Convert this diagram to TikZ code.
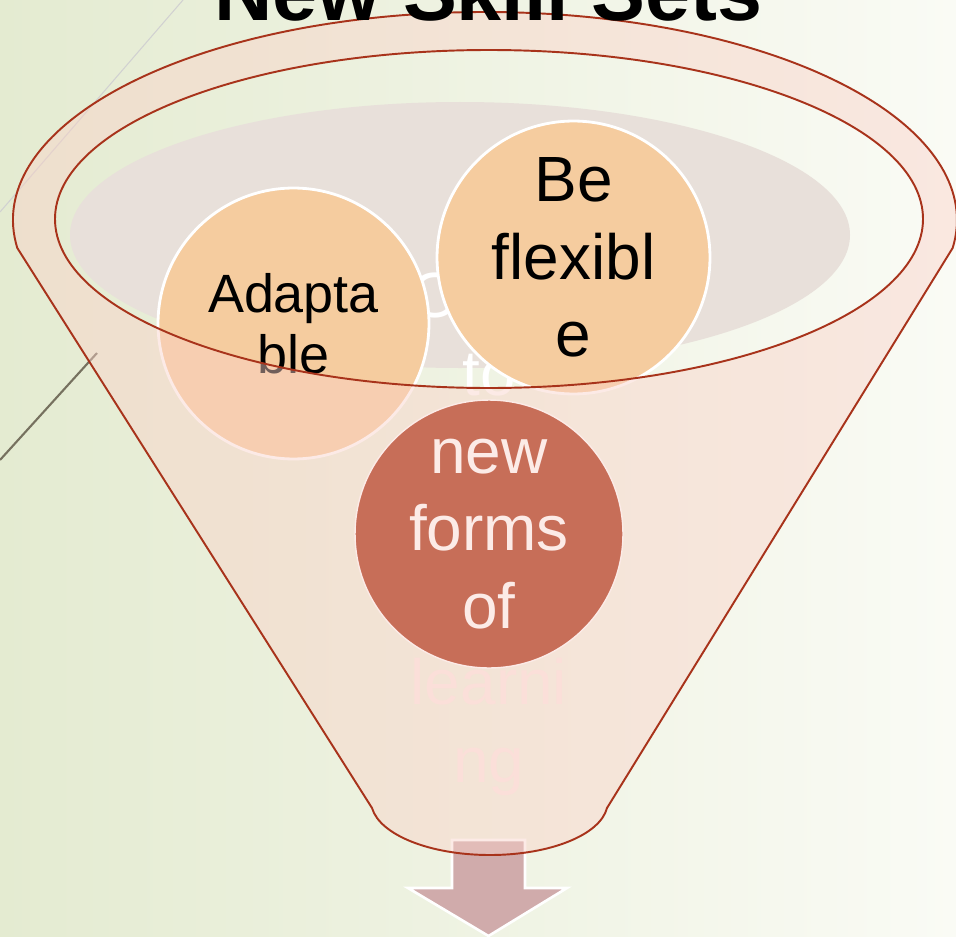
\documentclass[tikz,border=0pt]{standalone}
\usepackage{fontspec}
\setmainfont{Liberation Sans}
\usepackage{tikz}
\usetikzlibrary{positioning}
\definecolor{bgleft}{HTML}{E4EBD1}
\definecolor{bgright}{HTML}{FAFBF5}
\definecolor{bowlgray}{HTML}{E8E0DA}
\definecolor{peach}{HTML}{F5CC9F}
\definecolor{rust}{HTML}{C76E58}
\definecolor{funnelpink}{HTML}{FAD2C8}
\definecolor{funnelline}{HTML}{A8331B}
\definecolor{arrowrose}{HTML}{D0ABAB}
\definecolor{paletext}{HTML}{FCEBE7}
\definecolor{stemgray}{HTML}{76715F}
\begin{document}
\begin{tikzpicture}[x=0.02cm,y=-0.02cm,
    bubble/.style={circle,fill=peach,draw=white,line width=1.6pt,inner sep=0pt,align=center},
    bigtext/.style={font=\fontsize{36.4}{44}\selectfont,align=center,inner sep=0pt},
    rim/.style={draw=funnelline,line width=1.1pt}]
  \useasboundingbox (0,0) rectangle (956,936);
  \shade[left color=bgleft,right color=bgright] (0,0) rectangle (956,936);
  \draw[black!18,line width=0.6pt] (0,212)--(183,0);
  \draw[stemgray,line width=1.2pt] (0,460)--(97,353);
  \fill[bowlgray] (460,235) ellipse[x radius=390,y radius=133];
  \node[bigtext,text=white,anchor=south] (opento) at (489,396) {Open\\to};
  \node[bubble,minimum size=5.42cm,font=\fontsize{30.7}{34.7}\selectfont] (adapt) at (293.5,323.5) {Adapta\\ble};
  \node[bubble,minimum size=5.46cm,font=\fontsize{36.4}{44}\selectfont] (flex) at (573.5,257.5) {Be\\flexibl\\e};
  \node[bigtext,text=paletext,anchor=north] (learning) at (489,658) {learni\\ng};
  \draw[fill=arrowrose,draw=white,line width=1.5pt] (452,840)--(525,840)--(525,888)--(567,888)--(488.5,936)--(408,888)--(452,888)--cycle;
  \fill[funnelpink,fill opacity=0.45,even odd rule]
    (17.3,248) arc[start angle=172.26,end angle=367.74,x radius=472,y radius=208]
    -- (607,808) .. controls (600,835) and (550,855) .. (490,855)
    .. controls (430,855) and (380,835) .. (372,808) -- cycle
    (489,219) ellipse[x radius=434,y radius=169];
  \draw[rim] (17.3,248) arc[start angle=172.26,end angle=367.74,x radius=472,y radius=208]
    -- (607,808) .. controls (600,835) and (550,855) .. (490,855)
    .. controls (430,855) and (380,835) .. (372,808) -- cycle;
  \draw[rim] (489,219) ellipse[x radius=434,y radius=169];
  \node[circle,fill=rust,draw=paletext,line width=0.8pt,minimum size=5.36cm,inner sep=0pt,
        bigtext,text=paletext] (learn) at (489,534) {new\\forms\\of};
  \node[font=\fontsize{46}{55}\selectfont\bfseries,anchor=base,inner sep=0pt] (title) at (488.5,21) {New Skill Sets};
\end{tikzpicture}
\end{document}
